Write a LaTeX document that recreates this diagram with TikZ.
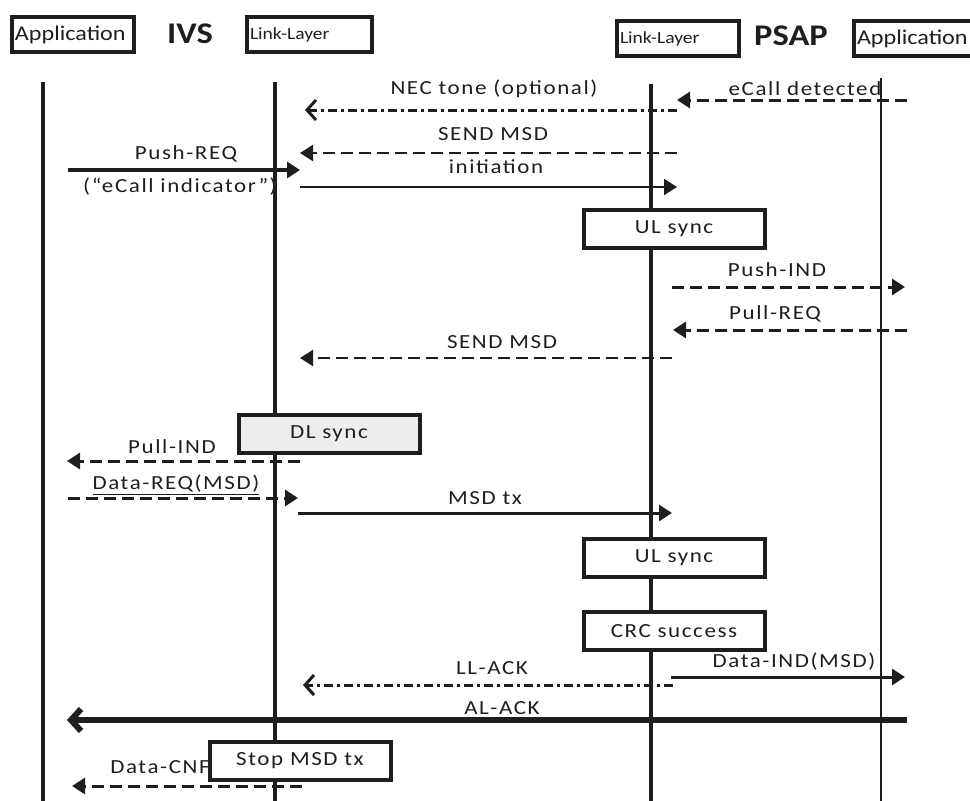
\documentclass[tikz,border=0pt]{standalone}
\usepackage{fontspec}
\setmainfont{Carlito}[FakeStretch=1.15]
\newfontfamily\spacedfam{Carlito}[FakeStretch=1.15, LetterSpace=8]
\usetikzlibrary{arrows.meta}
\definecolor{ink}{HTML}{1E1E1E}
\definecolor{syncgray}{HTML}{EDEDED}
\newcommand{\msgfont}{\spacedfam\fontsize{20}{22}\selectfont}
\newcommand{\boxfont}{\spacedfam\fontsize{20}{22}\selectfont}
\newcommand{\hdrfont}{\fontsize{21}{22}\selectfont}
\newcommand{\llfont}{\fontsize{17}{20}\selectfont}
\newcommand{\titlefont}{\fontsize{30}{32}\selectfont\bfseries}
\tikzset{
  lifeline/.style={line width=4pt, ink},
  thinlife/.style={line width=2pt, ink},
  procbox/.style={draw=ink, line width=4pt, fill=white, minimum width=181pt,
    minimum height=38pt, inner sep=0pt, font=\boxfont, text=ink},
  hdrbox/.style={draw=ink, line width=4pt, anchor=north west, inner xsep=3pt,
    inner ysep=0pt, minimum height=35pt, align=left, font=\hdrfont, text=ink},
  msg/.style={line width=3pt, ink},
  thinmsg/.style={line width=2pt, ink},
  dsh/.style={dash pattern=on 12pt off 6pt},
  dashdot/.style={dash pattern=on 9pt off 4pt on 3pt off 4pt},
  tri/.style={-{Triangle[length=13pt,width=16pt]}},
  barb/.style={-{Straight Barb[length=9pt,width=20pt]}},
  lbl/.style={inner sep=0pt, font=\msgfont, text=ink},
}
\begin{document}
\begin{tikzpicture}[x=1pt,y=-1pt]
\useasboundingbox (0,0) rectangle (970,801);

% ---- entity headers ----
\node[hdrbox, text width=116pt] (ivsapp) at (10,15) {Application};
\node[text=ink, font=\titlefont] (ivs) at (190,34) {IVS};
\node[hdrbox, text width=119pt, font=\llfont] (ivsll) at (245,15) {Link-Layer};
\node[hdrbox, text width=116pt, font=\llfont] (psapll) at (615,19) {Link-Layer};
\node[text=ink, font=\titlefont] (psap) at (791,36) {PSAP};
\node[hdrbox, text width=118pt] (psapapp) at (852,19) {Application};

% ---- lifelines ----
\coordinate (a1t) at (43,82);   \coordinate (a1b) at (43,801);
\coordinate (l1t) at (275,82);  \coordinate (l1b) at (275,801);
\coordinate (l2t) at (651,84);  \coordinate (l2b) at (651,801);
\coordinate (a2t) at (881,78);  \coordinate (a2b) at (881,801);
\draw[lifeline] (a1t) -- (a1b);
\draw[lifeline] (l1t) -- (l1b);
\draw[lifeline] (l2t) -- (l2b);
\draw[thinlife] (a2t) -- (a2b);

% ---- message end points ----
\coordinate (ecA) at (907,100); \coordinate (ecB) at (677,100);
\coordinate (necA) at (677,110); \coordinate (necB) at (305,110);
\coordinate (smiA) at (677,153); \coordinate (smiB) at (300,153);
\coordinate (iniA) at (300,187); \coordinate (iniB) at (677,187);
\coordinate (preqA) at (68,170); \coordinate (preqB) at (300,170);
\coordinate (pindA) at (672,287); \coordinate (pindB) at (905,287);
\coordinate (pullA) at (907,330); \coordinate (pullB) at (673,330);
\coordinate (smA) at (672,358); \coordinate (smB) at (300,358);
\coordinate (plindA) at (300,461); \coordinate (plindB) at (67,461);
\coordinate (dreqA) at (68,498); \coordinate (dreqB) at (298,498);
\coordinate (txA) at (298,513); \coordinate (txB) at (672,513);
\coordinate (dindA) at (671,677); \coordinate (dindB) at (905,677);
\coordinate (llA) at (673,685); \coordinate (llB) at (303,685);
\coordinate (alA) at (907,720); \coordinate (alB) at (67,720);
\coordinate (cnfA) at (302,786); \coordinate (cnfB) at (72,786);

% ---- messages ----
\draw[msg, dsh, tri] (ecA) -- (ecB);
\node[lbl] (ecl) at (805,89) {eCall detected};

\draw[msg, dashdot, barb] (necA) -- (necB);
\node[lbl] (necl) at (494,89) {NEC tone (optional)};

\draw[thinmsg, dsh, tri] (smiA) -- (smiB);
\node[lbl] (smil) at (493,134) {SEND MSD};
\node[lbl] (inil) at (496,167) {initiation};
\draw[thinmsg, tri] (iniA) -- (iniB);

\draw[line width=4pt, ink, tri] (preqA) -- (preqB);
\node[lbl] (preql) at (186,154) {Push-REQ};
\node[lbl] (preql2) at (180,187) {(“eCall indicator”)};

\node[procbox] (ul1) at (674,229) {UL sync};

\draw[msg, dsh, tri] (pindA) -- (pindB);
\node[lbl] (pindl) at (777,270) {Push-IND};

\draw[msg, dsh, tri] (pullA) -- (pullB);
\node[lbl] (pulll) at (775,314) {Pull-REQ};

\draw[thinmsg, dsh, tri] (smA) -- (smB);
\node[lbl] (sml) at (502,342) {SEND MSD};

\node[procbox, fill=syncgray] (dl) at (329,434) {DL sync};

\draw[msg, dsh, tri] (plindA) -- (plindB);
\node[lbl] (plindl) at (172,447) {Pull-IND};

\draw[msg, dsh, tri] (dreqA) -- (dreqB);
\node[lbl] (dreql) at (176,485) {\underline{Data-REQ(MSD)}};

\draw[msg, tri] (txA) -- (txB);
\node[lbl] (txl) at (485,498) {MSD tx};

\node[procbox] (ul2) at (674,558) {UL sync};
\node[procbox] (crc) at (674,631) {CRC success};

\draw[msg, tri] (dindA) -- (dindB);
\node[lbl] (dindl) at (794,662) {Data-IND(MSD)};

\draw[msg, dashdot, barb] (llA) -- (llB);
\node[lbl] (lll) at (492,668) {LL-ACK};

\draw[line width=6pt, ink, -{Straight Barb[length=10pt,width=22pt]}] (alA) -- (alB);
\node[lbl] (all) at (502,708) {AL-ACK};

\draw[msg, dsh, tri] (cnfA) -- (cnfB);
\node[lbl] (cnfl) at (160,767) {Data-CNF};

\node[procbox] (stop) at (300,761) {Stop MSD tx};
\end{tikzpicture}
\end{document}
